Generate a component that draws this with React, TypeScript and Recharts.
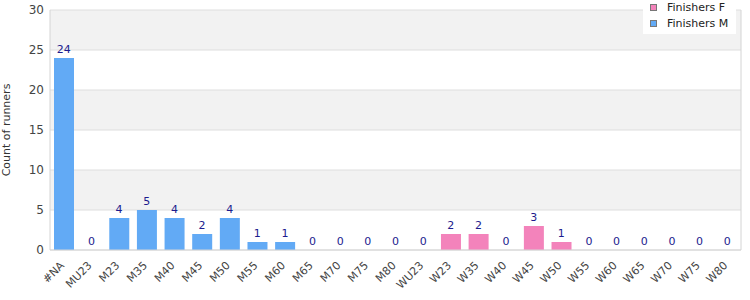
import * as React from 'react'
import {
  Bar,
  CartesianGrid,
  ComposedChart,
  LabelList,
  Line,
  XAxis,
  YAxis,
} from 'recharts'

const categories = [
  '#NA', 'MU23', 'M23', 'M35', 'M40', 'M45', 'M50', 'M55', 'M60', 'M65', 'M70', 'M75', 'M80',
  'WU23', 'W23', 'W35', 'W40', 'W45', 'W50', 'W55', 'W60', 'W65', 'W70', 'W75', 'W80',
]
const finishersM = [24, 0, 4, 5, 4, 2, 4, 1, 1, 0, 0, 0, 0, 0, 0, 0, 0, 0, 0, 0, 0, 0, 0, 0, 0]
const finishersF = [0, 0, 0, 0, 0, 0, 0, 0, 0, 0, 0, 0, 0, 0, 2, 2, 0, 3, 1, 0, 0, 0, 0, 0, 0]
const yTicks = [0, 5, 10, 15, 20, 25, 30]

const data = categories.map((cat, i) => ({
  cat,
  f: finishersF[i],
  m: finishersM[i],
  total: finishersF[i] + finishersM[i],
}))

const FONT = '"DejaVu Sans", Verdana, sans-serif'
const PINK = '#f383bb'
const BLUE = '#62aaf5'
const AXIS = '#d4d4d4'

const XTick = (props: any) => {
  const { x, y, payload } = props
  const ax = x - 1
  const ay = y + 6
  return (
    <text
      x={ax}
      y={ay}
      transform={`rotate(-45 ${ax} ${ay})`}
      textAnchor="end"
      dominantBaseline="middle"
      fontSize={11}
      fontFamily={FONT}
      fill="#444"
    >
      {payload.value}
    </text>
  )
}

const TotalLabel = (props: any) => {
  const { x, y, value } = props
  return (
    <text x={x} y={y - 5} textAnchor="middle" fontSize={11} fontFamily={FONT} fill="#1c1c8e">
      {value}
    </text>
  )
}

const legendItems = [
  { name: 'Finishers F', color: PINK },
  { name: 'Finishers M', color: BLUE },
]

export default function App() {
  return (
    <div
      style={{
        position: 'absolute',
        top: 0,
        left: 0,
        width: 750,
        height: 300,
        background: '#fff',
      }}
    >
      <ComposedChart
        width={750}
        height={300}
        data={data}
        margin={{ top: 10, right: 8, bottom: 0, left: 0 }}
        barSize={20}
      >
        <CartesianGrid
          vertical={false}
          stroke="#dedede"
          horizontalFill={['#f2f2f2', '#ffffff']}
          fillOpacity={1}
        />
        <XAxis
          dataKey="cat"
          interval={0}
          height={50}
          tickLine={false}
          axisLine={{ stroke: AXIS }}
          tick={<XTick />}
        />
        <YAxis
          width={50}
          domain={[0, 30]}
          ticks={yTicks}
          tickLine={false}
          axisLine={{ stroke: AXIS }}
          tick={{ fontSize: 12, fontFamily: FONT, fill: '#444', dx: 2 }}
        />
        <YAxis
          yAxisId="edge"
          orientation="right"
          width={1}
          tick={false}
          tickLine={false}
          axisLine={{ stroke: AXIS }}
        />
        <Bar dataKey="f" name="Finishers F" stackId="a" fill={PINK} isAnimationActive={false} />
        <Bar dataKey="m" name="Finishers M" stackId="a" fill={BLUE} isAnimationActive={false} />
        <Line
          dataKey="total"
          stroke="none"
          dot={false}
          activeDot={false}
          legendType="none"
          isAnimationActive={false}
        >
          <LabelList dataKey="total" content={<TotalLabel />} />
        </Line>
        <text
          x={10}
          y={130}
          transform="rotate(-90 10 130)"
          textAnchor="middle"
          fontSize={11}
          fontFamily={FONT}
          fill="#333"
        >
          Count of runners
        </text>
      </ComposedChart>
      <div
        style={{
          position: 'absolute',
          top: 0,
          left: 643,
          width: 93,
          height: 34,
          paddingLeft: 7,
          background: '#fff',
          fontFamily: FONT,
          fontSize: 11,
          color: '#222',
          boxSizing: 'border-box',
        }}
      >
        {legendItems.map((it, i) => (
          <div
            key={it.name}
            style={{
              position: 'absolute',
              left: 7,
              top: i === 0 ? 0 : 16,
              display: 'flex',
              alignItems: 'center',
              height: 15,
              whiteSpace: 'nowrap',
            }}
          >
            <span
              style={{
                width: 5,
                height: 5,
                background: it.color,
                border: '1px solid #777',
                marginRight: 10,
              }}
            />
            {it.name}
          </div>
        ))}
      </div>
    </div>
  )
}
